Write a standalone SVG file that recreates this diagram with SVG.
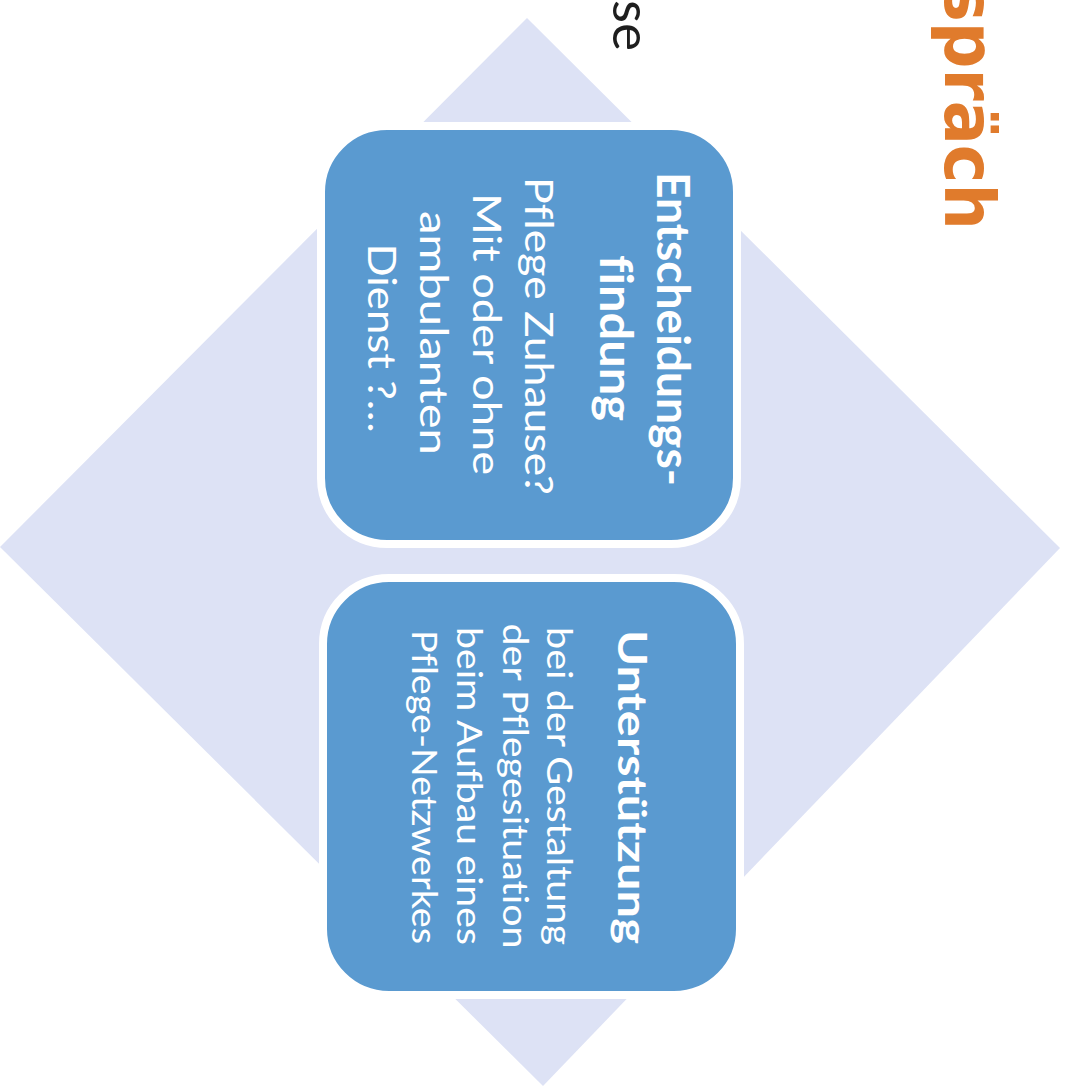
<svg xmlns="http://www.w3.org/2000/svg" width="1069" height="1087" viewBox="0 0 1069 1087">
  <style>
    .bg { fill: #ffffff; }
    .diamond { fill: #dde2f5; }
    .box { fill: #5a9ad0; stroke: #ffffff; stroke-width: 8; }
    text { font-variant-ligatures: none; font-feature-settings: "liga" 0; }
    .title { font-family: Lato, "Open Sans", "Liberation Sans", sans-serif; font-weight: bold; fill: #ffffff; text-anchor: middle; }
    .body { font-family: Lato, "Open Sans", "Liberation Sans", sans-serif; font-weight: normal; fill: #ffffff; text-anchor: middle; }
    .heading { font-family: "DejaVu Sans", "Liberation Sans", sans-serif; font-weight: bold; fill: #e07b2c; }
    .caption { font-family: Lato, "Open Sans", "Liberation Sans", sans-serif; fill: #1e1e1e; text-anchor: end; }
  </style>

  <rect class="bg" x="0" y="0" width="1069" height="1087"/>

  <!-- page heading fragments, set vertically -->
  <g id="heading" transform="rotate(90)">
    <text class="heading" x="-17" y="-945" font-size="70" textLength="247" lengthAdjust="spacingAndGlyphs">spräch</text>
    <text class="caption" x="51" y="-613" font-size="53">se</text>
  </g>

  <!-- background diamond -->
  <g id="diamond">
    <polygon class="diamond" points="527,18 1060,548 543,1086 0,547"/>
  </g>

  <g id="connectors"/>

  <!-- upper box: decision making -->
  <g id="node-entscheidung">
    <rect class="box" x="321" y="126" width="416" height="418" rx="66" ry="66"/>
    <g transform="rotate(90)">
      <text class="title" x="329" y="-657" font-size="46" textLength="314" lengthAdjust="spacingAndGlyphs">Entscheidungs-</text>
      <text class="title" x="338" y="-600" font-size="46" textLength="166" lengthAdjust="spacingAndGlyphs">findung</text>
      <text class="body" x="336" y="-525" font-size="38" textLength="318" lengthAdjust="spacingAndGlyphs">Pflege Zuhause?</text>
      <text class="body" x="334" y="-473" font-size="38" textLength="282" lengthAdjust="spacingAndGlyphs">Mit oder ohne</text>
      <text class="body" x="333" y="-420" font-size="38" textLength="244" lengthAdjust="spacingAndGlyphs">ambulanten</text>
      <text class="body" x="338" y="-368" font-size="38" textLength="189" lengthAdjust="spacingAndGlyphs">Dienst ?…</text>
    </g>
  </g>

  <!-- lower box: support -->
  <g id="node-unterstuetzung">
    <rect class="box" x="323" y="578" width="417" height="417" rx="66" ry="66"/>
    <g transform="rotate(90)">
      <text class="title" x="787" y="-618" font-size="40" textLength="314" lengthAdjust="spacingAndGlyphs">Unterstützung</text>
      <text class="body" x="786" y="-547" font-size="34" textLength="318" lengthAdjust="spacingAndGlyphs">bei der Gestaltung</text>
      <text class="body" x="786" y="-503" font-size="34" textLength="325" lengthAdjust="spacingAndGlyphs">der Pflegesituation</text>
      <text class="body" x="786" y="-457" font-size="34" textLength="318" lengthAdjust="spacingAndGlyphs">beim Aufbau eines</text>
      <text class="body" x="787" y="-412" font-size="34" textLength="314" lengthAdjust="spacingAndGlyphs">Pflege-Netzwerkes</text>
    </g>
  </g>
</svg>
